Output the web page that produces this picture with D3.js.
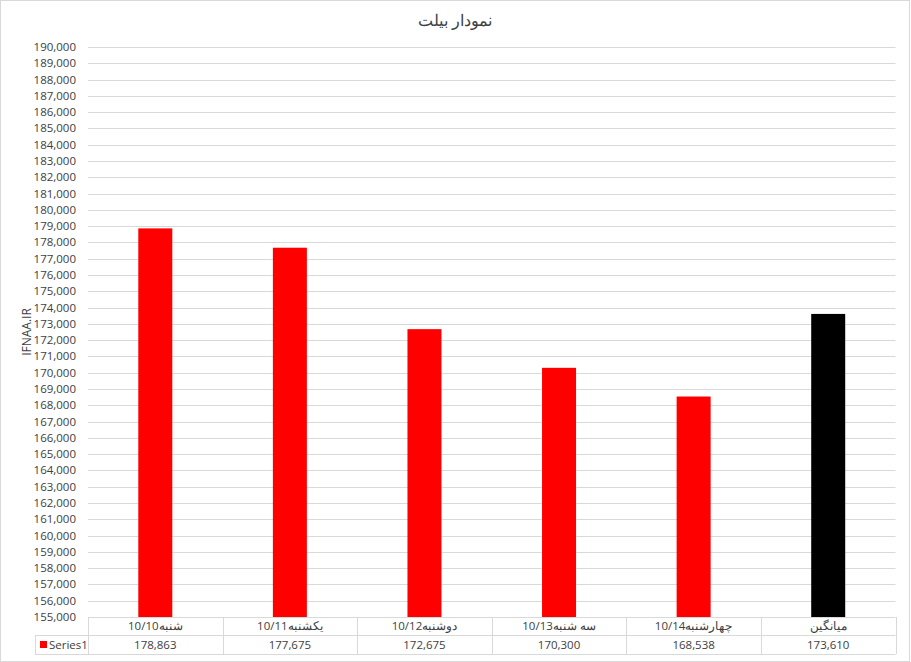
<!DOCTYPE html>
<html>
<head>
<meta charset="utf-8">
<script src="https://cdn.jsdelivr.net/npm/d3@7.9.0/dist/d3.min.js"></script>
<style>
  body { margin: 0; background: #fff; }
  svg { display: block; font-family: "Open Sans", "Noto Sans", sans-serif; }
</style>
</head>
<body>
<svg id="chart" width="911" height="662"></svg>
<script>
// data
const categories = ['شنبه10/10', 'یکشنبه10/11', 'دوشنبه10/12', 'سه شنبه10/13', 'چهارشنبه10/14', 'میانگین'];
const values = [178863, 177675, 172675, 170300, 168538, 173610];
const barColors = ['#ff0000', '#ff0000', '#ff0000', '#ff0000', '#ff0000', '#000000'];
const seriesName = 'Series1';
const titleText = 'نمودار بیلت';
const yLabel = 'IFNAA.IR';

const svg = d3.select('#chart');
const W = 911, H = 662;
const plotLeft = 88, plotRight = 895.5, plotTop = 47, plotBottom = 617;
const rowH1 = 18, rowH2 = 19;
const grid = '#d9d9d9';

// chart frame
svg.append('rect')
    .attr('x', 0.5).attr('y', 0.5)
    .attr('width', W - 2).attr('height', H - 1)
    .attr('fill', '#fff').attr('stroke', grid);

svg.append('text')
    .attr('x', 455).attr('y', 26)
    .attr('text-anchor', 'middle')
    .attr('font-size', 16).attr('fill', '#404040')
    .text(titleText);

let x = d3.scaleBand().domain(categories).range([plotLeft, plotRight]).paddingInner(0).paddingOuter(0);
let y = d3.scaleLinear().domain([155000, 190000]).range([plotBottom, plotTop]);

let ticks = d3.range(155000, 190001, 1000);

// gridlines
svg.append('g')
    .selectAll('line')
    .data(ticks)
    .join('line')
    .attr('x1', plotLeft).attr('x2', plotRight)
    .attr('y1', (d) => Math.round(y(d)) + 0.5)
    .attr('y2', (d) => Math.round(y(d)) + 0.5)
    .attr('stroke', grid);

// y tick labels
svg.append('g')
    .selectAll('text')
    .data(ticks)
    .join('text')
    .attr('x', 76)
    .attr('y', (d) => y(d) + 4)
    .attr('text-anchor', 'end')
    .attr('font-size', 11.5).attr('fill', '#404040')
    .text((d) => d3.format(',')(d));

svg.append('text')
    .attr('transform', `translate(31,${(plotTop + plotBottom) / 2}) rotate(-90)`)
    .attr('text-anchor', 'middle')
    .attr('font-size', 12).attr('fill', '#404040')
    .text(yLabel);

// bars
const barW = 34;
svg.append('g')
    .selectAll('rect')
    .data(values)
    .join('rect')
    .attr('x', (d, i) => x(categories[i]) + x.bandwidth() / 2 - barW / 2)
    .attr('y', (d) => y(d))
    .attr('width', barW)
    .attr('height', (d) => plotBottom - y(d))
    .attr('fill', (d, i) => barColors[i]);

// data table
const t = svg.append('g').attr('fill', 'none').attr('stroke', grid);
const r1 = plotBottom, r2 = plotBottom + rowH1, r3 = plotBottom + rowH1 + rowH2;
t.append('line').attr('x1', plotLeft + 0.5).attr('x2', plotLeft + 0.5).attr('y1', r1).attr('y2', r3);
t.append('line').attr('x1', 35.5).attr('x2', 35.5).attr('y1', r2).attr('y2', r3);
t.append('line').attr('x1', 35).attr('x2', plotRight).attr('y1', r2 + 0.5).attr('y2', r2 + 0.5);
t.append('line').attr('x1', 35).attr('x2', plotRight).attr('y1', r3 + 0.5).attr('y2', r3 + 0.5);
categories.forEach((c) => {
    let xe = Math.round(x(c) + x.bandwidth()) + 0.5;
    t.append('line').attr('x1', xe).attr('x2', xe).attr('y1', r1).attr('y2', r3);
});

svg.append('g')
    .selectAll('text')
    .data(categories)
    .join('text')
    .attr('x', (d) => x(d) + x.bandwidth() / 2)
    .attr('y', r1 + 13)
    .attr('text-anchor', 'middle')
    .attr('font-size', 11.5).attr('fill', '#404040')
    .text((d) => d);

svg.append('g')
    .selectAll('text')
    .data(values)
    .join('text')
    .attr('x', (d, i) => x(categories[i]) + x.bandwidth() / 2)
    .attr('y', r2 + 14)
    .attr('text-anchor', 'middle')
    .attr('font-size', 11.5).attr('fill', '#404040')
    .text((d) => d3.format(',')(d));

// legend key
svg.append('rect')
    .attr('x', 40).attr('y', r2 + 6)
    .attr('width', 7).attr('height', 7)
    .attr('fill', barColors[0]);
svg.append('text')
    .attr('x', 49).attr('y', r2 + 14)
    .attr('font-size', 11.5).attr('fill', '#404040')
    .text(seriesName);
</script>
</body>
</html>
